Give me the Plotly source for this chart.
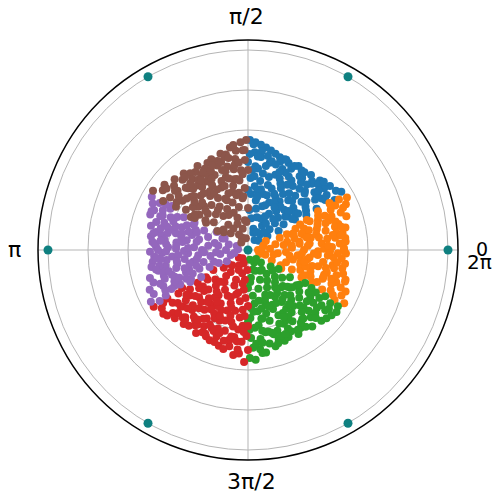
import math
import plotly.graph_objects as go

# (theta in degrees, r) for each 60-degree sector of the hexagonal cloud
blue_pts = [
    (32,0.55),(35,0.48),(38,0.52),(41,0.44),(44,0.50),(47,0.47),(50,0.49),(53,0.45),(56,0.48),(59,0.49),
    (62,0.46),(65,0.48),(68,0.49),(71,0.49),(74,0.50),(77,0.51),(80,0.52),(83,0.53),(86,0.54),(89,0.55),
    (31,0.40),(34,0.35),(37,0.42),(40,0.38),(43,0.31),(46,0.41),(49,0.36),(52,0.43),(55,0.39),(58,0.33),
    (61,0.42),(64,0.37),(67,0.44),(70,0.40),(73,0.34),(76,0.45),(79,0.39),(82,0.47),(85,0.42),(88,0.36),
    (33,0.28),(36,0.22),(39,0.30),(42,0.25),(45,0.19),(48,0.27),(51,0.32),(54,0.24),(57,0.29),(60,0.21),
    (63,0.30),(66,0.26),(69,0.33),(72,0.23),(75,0.29),(78,0.31),(81,0.25),(84,0.32),(87,0.28),(90,0.44),
    (36,0.12),(44,0.15),(52,0.10),(60,0.14),(68,0.17),(76,0.11),(84,0.16),(41,0.07),(57,0.06),(73,0.09),
    (88,0.20),(32,0.18),
    (46,0.46),(58,0.41),(70,0.47),(82,0.50),(35,0.45),(39,0.49),(66,0.39),(78,0.43),(86,0.49),(54,0.35),
    (62,0.35),(74,0.38),(42,0.36),(50,0.40),(30,0.50),(37,0.36),(48,0.33),(64,0.43),(80,0.35),(89,0.48),
    (34,0.53),(43,0.48),(55,0.45),(67,0.49),(71,0.29),(79,0.21),(85,0.37),(63,0.19),(47,0.22),(40,0.26),
    (56,0.16),(83,0.41),(87,0.53),(61,0.27),(69,0.24),(75,0.46),(53,0.27),(45,0.40),(31,0.34),(38,0.44),
    (33,0.46),(36,0.31),(40,0.46),(44,0.28),(48,0.44),(51,0.20),(54,0.48),(58,0.25),(61,0.48),(65,0.31),
    (68,0.42),(72,0.45),(75,0.17),(78,0.48),(81,0.30),(84,0.47),(87,0.40),(90,0.30),(42,0.51),(49,0.12),
    (64,0.10),(80,0.27),(35,0.27),(59,0.38),
]

orange_pts = [
    (-29,0.55),(-26,0.52),(-23,0.53),(-20,0.47),(-17,0.51),(-14,0.49),(-11,0.48),(-8,0.49),(-5,0.47),(-2,0.49),
    (1,0.48),(4,0.46),(7,0.49),(10,0.48),(13,0.50),(16,0.47),(19,0.52),(22,0.50),(25,0.54),(28,0.56),
    (-28,0.42),(-25,0.38),(-22,0.45),(-19,0.33),(-16,0.41),(-13,0.36),(-10,0.43),(-7,0.31),(-4,0.40),(-1,0.35),
    (2,0.42),(5,0.37),(8,0.44),(11,0.32),(14,0.40),(17,0.36),(20,0.43),(23,0.38),(26,0.46),(29,0.40),
    (-27,0.30),(-24,0.24),(-21,0.28),(-18,0.20),(-15,0.27),(-12,0.23),(-9,0.30),(-6,0.25),(-3,0.19),(0,0.28),
    (3,0.22),(6,0.31),(9,0.26),(12,0.20),(15,0.29),(18,0.24),(21,0.30),(24,0.26),(27,0.33),(30,0.47),
    (-24,0.13),(-15,0.09),(-6,0.15),(3,0.11),(12,0.14),(21,0.17),(27,0.10),(-20,0.06),(0,0.05),(16,0.08),
    (-29,0.19),(8,0.18),
    (-22,0.50),(-12,0.44),(-2,0.45),(8,0.40),(18,0.46),(27,0.49),(-26,0.46),(-9,0.38),(5,0.49),(15,0.45),
    (24,0.42),(-18,0.40),(-5,0.43),(11,0.45),(20,0.37),(-30,0.50),(-14,0.33),(1,0.38),(13,0.35),(29,0.52),
    (-27,0.36),(-19,0.44),(-11,0.27),(-3,0.33),(4,0.30),(10,0.36),(17,0.28),(25,0.34),(-23,0.34),(-8,0.21),
    (6,0.22),(19,0.41),(22,0.21),(-16,0.30),(-1,0.41),(14,0.24),(26,0.39),(-21,0.40),(9,0.47),(-4,0.27),
    (-28,0.48),(-24,0.31),(-20,0.40),(-16,0.46),(-12,0.29),(-8,0.45),(-4,0.35),(0,0.48),(3,0.40),(7,0.26),
    (10,0.43),(14,0.48),(18,0.32),(22,0.45),(26,0.29),(29,0.47),(-25,0.18),(-10,0.13),(6,0.07),(20,0.24),
    (-18,0.51),(24,0.52),(-13,0.40),(12,0.30),
]

green_pts = [
    (-89,0.54),(-86,0.55),(-83,0.50),(-80,0.52),(-77,0.48),(-74,0.50),(-71,0.47),(-68,0.49),(-65,0.48),(-62,0.46),
    (-59,0.49),(-56,0.47),(-53,0.48),(-50,0.50),(-47,0.46),(-44,0.51),(-41,0.52),(-38,0.49),(-35,0.54),(-32,0.53),
    (-88,0.44),(-85,0.39),(-82,0.45),(-79,0.35),(-76,0.42),(-73,0.37),(-70,0.43),(-67,0.32),(-64,0.41),(-61,0.36),
    (-58,0.42),(-55,0.38),(-52,0.44),(-49,0.33),(-46,0.40),(-43,0.35),(-40,0.45),(-37,0.39),(-34,0.43),(-31,0.37),
    (-87,0.29),(-84,0.23),(-81,0.31),(-78,0.26),(-75,0.20),(-72,0.28),(-69,0.24),(-66,0.30),(-63,0.21),(-60,0.27),
    (-57,0.31),(-54,0.23),(-51,0.29),(-48,0.25),(-45,0.19),(-42,0.28),(-39,0.22),(-36,0.30),(-33,0.25),(-30,0.33),
    (-84,0.14),(-76,0.10),(-68,0.16),(-60,0.12),(-52,0.15),(-44,0.09),(-36,0.14),(-80,0.05),(-64,0.07),(-48,0.06),
    (-90,0.19),(-32,0.18),
    (-87,0.49),(-78,0.42),(-69,0.46),(-61,0.40),(-54,0.45),(-45,0.43),(-37,0.46),(-90,0.36),(-82,0.38),(-73,0.44),
    (-65,0.36),(-57,0.35),(-49,0.41),(-41,0.39),(-33,0.49),(-85,0.47),(-74,0.33),(-62,0.30),(-51,0.36),(-39,0.33),
    (-88,0.34),(-80,0.41),(-71,0.26),(-63,0.44),(-56,0.26),(-47,0.31),(-43,0.46),(-35,0.37),(-77,0.30),(-67,0.40),
    (-58,0.18),(-53,0.34),(-46,0.25),(-40,0.29),(-31,0.45),(-83,0.27),(-72,0.49),(-59,0.39),(-50,0.21),(-34,0.31),
    (-89,0.40),(-85,0.31),(-81,0.47),(-78,0.35),(-74,0.43),(-70,0.30),(-66,0.46),(-62,0.38),(-58,0.47),(-55,0.30),
    (-51,0.44),(-47,0.38),(-43,0.27),(-39,0.42),(-36,0.50),(-32,0.40),(-86,0.16),(-71,0.11),(-55,0.12),(-40,0.16),
    (-82,0.52),(-38,0.53),(-64,0.25),(-45,0.48),
]

red_pts = [
    (-149,0.55),(-146,0.52),(-143,0.53),(-140,0.49),(-137,0.50),(-134,0.47),(-131,0.49),(-128,0.48),(-125,0.46),(-122,0.49),
    (-119,0.47),(-116,0.48),(-113,0.49),(-110,0.46),(-107,0.50),(-104,0.51),(-101,0.49),(-98,0.53),(-95,0.52),(-92,0.56),
    (-148,0.41),(-145,0.46),(-142,0.37),(-139,0.43),(-136,0.34),(-133,0.41),(-130,0.38),(-127,0.44),(-124,0.33),(-121,0.40),
    (-118,0.36),(-115,0.43),(-112,0.38),(-109,0.32),(-106,0.42),(-103,0.37),(-100,0.45),(-97,0.40),(-94,0.46),(-91,0.43),
    (-147,0.30),(-144,0.25),(-141,0.29),(-138,0.22),(-135,0.28),(-132,0.24),(-129,0.31),(-126,0.20),(-123,0.27),(-120,0.23),
    (-117,0.30),(-114,0.25),(-111,0.19),(-108,0.28),(-105,0.23),(-102,0.31),(-99,0.26),(-96,0.20),(-93,0.33),(-90,0.28),
    (-144,0.15),(-136,0.11),(-128,0.14),(-120,0.09),(-112,0.16),(-104,0.12),(-96,0.15),(-140,0.06),(-124,0.05),(-108,0.07),
    (-150,0.20),(-92,0.10),
    (-146,0.35),(-138,0.47),(-129,0.43),(-120,0.44),(-111,0.42),(-102,0.46),(-94,0.38),(-149,0.47),(-141,0.40),(-132,0.35),
    (-123,0.41),(-114,0.33),(-105,0.47),(-97,0.34),(-90,0.50),(-143,0.44),(-135,0.39),(-126,0.37),(-117,0.42),(-108,0.37),
    (-150,0.38),(-142,0.31),(-133,0.46),(-125,0.29),(-116,0.38),(-110,0.25),(-101,0.39),(-93,0.24),(-147,0.25),(-137,0.30),
    (-127,0.26),(-119,0.32),(-113,0.44),(-106,0.30),(-99,0.44),(-95,0.30),(-131,0.21),(-122,0.35),(-103,0.22),(-139,0.35),
    (-148,0.50),(-144,0.38),(-140,0.44),(-136,0.42),(-132,0.47),(-128,0.33),(-124,0.45),(-121,0.30),(-117,0.47),(-113,0.36),
    (-109,0.44),(-105,0.34),(-101,0.44),(-97,0.46),(-93,0.41),(-90,0.38),(-145,0.12),(-130,0.17),(-115,0.11),(-99,0.17),
    (-141,0.52),(-96,0.50),(-126,0.43),(-110,0.49),
]

purple_pts = [
    (151,0.55),(154,0.53),(157,0.51),(160,0.52),(163,0.48),(166,0.50),(169,0.47),(172,0.49),(175,0.48),(178,0.46),
    (181,0.49),(184,0.47),(187,0.48),(190,0.49),(193,0.46),(196,0.51),(199,0.50),(202,0.53),(205,0.52),(208,0.55),
    (152,0.44),(155,0.39),(158,0.46),(161,0.35),(164,0.42),(167,0.37),(170,0.44),(173,0.33),(176,0.41),(179,0.36),
    (182,0.43),(185,0.38),(188,0.32),(191,0.42),(194,0.37),(197,0.44),(200,0.39),(203,0.46),(206,0.41),(209,0.47),
    (153,0.30),(156,0.24),(159,0.28),(162,0.21),(165,0.29),(168,0.25),(171,0.31),(174,0.20),(177,0.27),(180,0.23),
    (183,0.30),(186,0.25),(189,0.19),(192,0.28),(195,0.23),(198,0.31),(201,0.26),(204,0.21),(207,0.32),(210,0.27),
    (156,0.14),(164,0.10),(172,0.15),(180,0.11),(188,0.14),(196,0.09),(204,0.16),(160,0.06),(176,0.05),(192,0.07),
    (150,0.18),(208,0.12),
    (152,0.50),(159,0.40),(166,0.45),(173,0.42),(180,0.45),(187,0.41),(194,0.44),(201,0.47),(207,0.38),(155,0.47),
    (162,0.44),(169,0.34),(176,0.47),(184,0.35),(191,0.36),(198,0.40),(205,0.34),(150,0.44),(163,0.31),(210,0.51),
    (153,0.36),(158,0.33),(165,0.39),(171,0.26),(178,0.40),(183,0.22),(190,0.45),(197,0.27),(203,0.40),(209,0.33),
    (157,0.42),(168,0.41),(174,0.36),(181,0.32),(186,0.44),(193,0.30),(200,0.33),(206,0.46),(161,0.27),(195,0.41),
    (151,0.47),(155,0.30),(159,0.47),(162,0.38),(166,0.34),(170,0.48),(174,0.44),(177,0.36),(181,0.41),(185,0.46),
    (189,0.36),(192,0.47),(196,0.33),(199,0.44),(203,0.30),(207,0.43),(154,0.13),(168,0.17),(184,0.16),(199,0.18),
    (158,0.52),(202,0.37),(178,0.30),(190,0.26),
]

brown_pts = [
    (91,0.55),(94,0.54),(97,0.50),(100,0.52),(103,0.49),(106,0.50),(109,0.47),(112,0.49),(115,0.48),(118,0.46),
    (121,0.49),(124,0.47),(127,0.48),(130,0.50),(133,0.48),(136,0.51),(139,0.49),(142,0.53),(145,0.52),(148,0.56),
    (92,0.45),(95,0.40),(98,0.46),(101,0.36),(104,0.43),(107,0.38),(110,0.45),(113,0.34),(116,0.42),(119,0.37),
    (122,0.44),(125,0.33),(128,0.41),(131,0.36),(134,0.43),(137,0.39),(140,0.46),(143,0.41),(146,0.47),(149,0.42),
    (93,0.31),(96,0.26),(99,0.29),(102,0.22),(105,0.30),(108,0.25),(111,0.20),(114,0.28),(117,0.23),(120,0.30),
    (123,0.26),(126,0.21),(129,0.29),(132,0.24),(135,0.31),(138,0.27),(141,0.22),(144,0.30),(147,0.25),(150,0.33),
    (96,0.15),(104,0.11),(112,0.14),(120,0.09),(128,0.16),(136,0.12),(144,0.15),(100,0.06),(116,0.07),(132,0.05),
    (90,0.21),(148,0.18),
    (93,0.50),(100,0.41),(107,0.46),(114,0.41),(121,0.40),(128,0.45),(135,0.38),(141,0.47),(147,0.37),(90,0.40),
    (97,0.35),(104,0.48),(111,0.37),(118,0.42),(125,0.43),(132,0.41),(139,0.33),(146,0.43),(150,0.49),(109,0.30),
    (94,0.38),(99,0.43),(103,0.33),(108,0.42),(113,0.27),(117,0.34),(123,0.35),(127,0.25),(131,0.44),(137,0.29),
    (142,0.35),(149,0.31),(95,0.27),(105,0.37),(115,0.44),(119,0.20),(126,0.39),(134,0.33),(140,0.40),(145,0.26),
    (92,0.50),(96,0.44),(99,0.36),(102,0.47),(106,0.41),(110,0.34),(113,0.46),(117,0.40),(121,0.33),(124,0.42),
    (128,0.36),(131,0.48),(135,0.44),(138,0.36),(142,0.44),(146,0.32),(93,0.14),(108,0.17),(124,0.13),(140,0.16),
    (98,0.53),(143,0.51),(120,0.45),(102,0.28),
]

# hexagonal lattice site at the origin and its six neighbours
lattice_theta = [0, 0, 60, 120, 180, 240, 300]
lattice_r = [0, 1, 1, 1, 1, 1, 1]

angle_ticks = [0, 90, 180, 270]
radial_ticks = [0.2, 0.4, 0.6, 0.8, 1.0]

# angular tick labels: (text, angle in degrees, font size, pixel shifts)
angle_labels = [
    ("0", 0, 19, 1, 1),
    ("2π", 0, 20, -2, -12),
    ("π/2", 90, 22, -2, 0),
    ("π", 180, 22, 0, 0),
    ("3π/2", 270, 22, 4, 2),
]

sectors = [
    (blue_pts, "#1f77b4"),
    (orange_pts, "#ff7f0e"),
    (green_pts, "#2ca02c"),
    (red_pts, "#d62728"),
    (purple_pts, "#9467bd"),
    (brown_pts, "#8c564b"),
]

fig = go.Figure()
for pts, color in sectors:
    th, rr = zip(*pts)
    fig.add_trace(go.Scatterpolar(
        theta=list(th), r=list(rr), mode="markers",
        marker=dict(size=8, color=color, line=dict(width=0)),
        showlegend=False,
    ))

fig.add_trace(go.Scatterpolar(
    theta=lattice_theta, r=lattice_r, mode="markers",
    marker=dict(size=9, color="#0f8080", line=dict(width=0)),
    showlegend=False,
))

# polar area is a 420 px square; labels sit about 233 px from its centre
plot_size = 420.0
label_dist = 233.0
annotations = []
for text, ang, fsize, dx, dy in angle_labels:
    a = math.radians(ang)
    annotations.append(dict(
        text=text, showarrow=False, xref="paper", yref="paper",
        x=0.5 + label_dist * math.cos(a) / plot_size,
        y=0.5 + label_dist * math.sin(a) / plot_size,
        xanchor="center", yanchor="middle",
        xshift=dx, yshift=dy,
        font=dict(family="DejaVu Sans", size=fsize, color="black"),
    ))

fig.update_layout(
    width=494, height=495,
    margin=dict(l=38, r=36, t=40, b=35),
    paper_bgcolor="white",
    font=dict(family="DejaVu Sans", size=22, color="black"),
    annotations=annotations,
    polar=dict(
        bgcolor="white",
        radialaxis=dict(
            range=[0, 1.05], tickvals=radial_ticks, showticklabels=False,
            showline=False, ticks="", gridcolor="#b5b5b5", gridwidth=1,
        ),
        angularaxis=dict(
            direction="counterclockwise", rotation=0,
            tickvals=angle_ticks, showticklabels=False,
            showline=True, linecolor="black", linewidth=1.5,
            gridcolor="#b5b5b5", gridwidth=1, ticks="",
        ),
    ),
)

fig.write_html("out.html")
